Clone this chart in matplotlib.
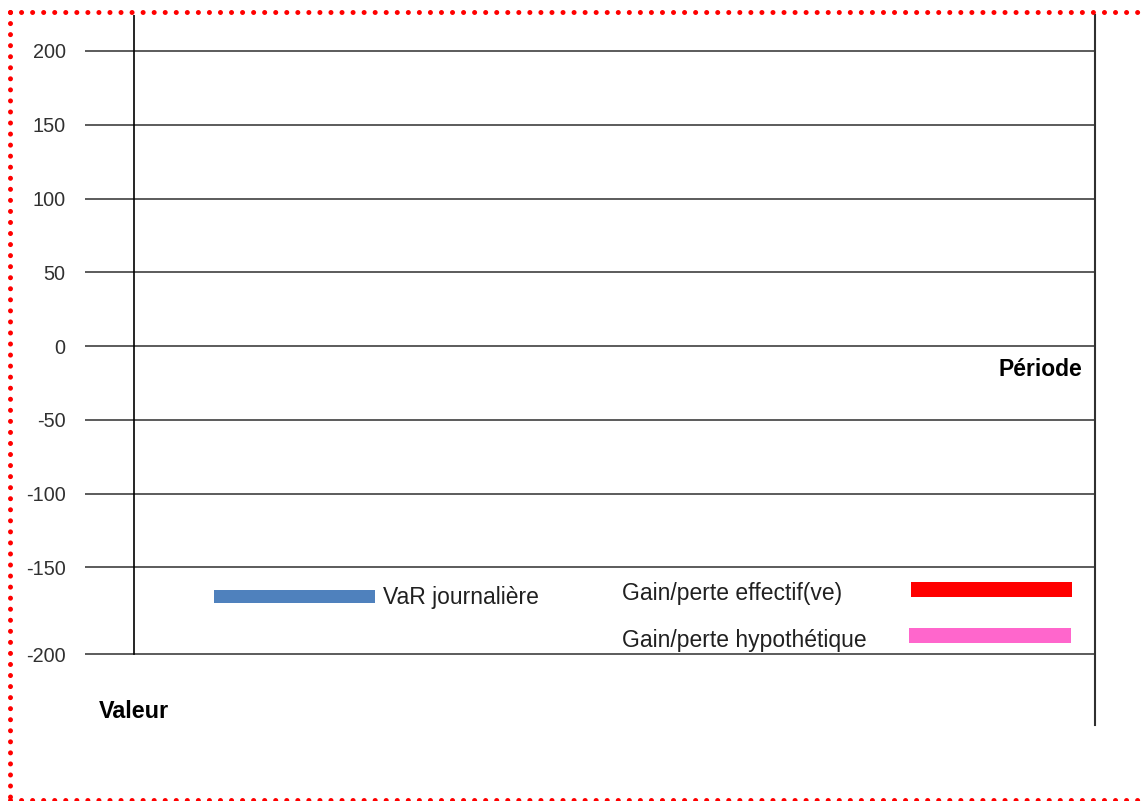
import matplotlib
matplotlib.use("Agg")
from matplotlib import pyplot as plt
from matplotlib.patches import Rectangle
from matplotlib.lines import Line2D

plt.rcParams['font.family'] = ['Liberation Sans', 'DejaVu Sans']

# y axis gridlines (the -200 line sits lower than the regular spacing in the original)
y_ticks = [200, 150, 100, 50, 0, -50, -100, -150, -208.8]
y_labels = ['200', '150', '100', '50', '0', '-50', '-100', '-150', '-200']

series_names = ['VaR journalière', 'Gain/perte effectif(ve)', 'Gain/perte hypothétique']
series_colors = ['#4F81BD', '#FF0000', '#FF66CC']
# no data points in the chart
series_values = [[], [], []]

x_title = 'Période'
y_title = 'Valeur'

fig = plt.figure(figsize=(11.48, 8.01), dpi=100)
ax = fig.add_axes([85 / 1148, 76 / 801, 1010 / 1148, 710 / 801])
ax.set_xlim(0, 1)
ax.set_ylim(-256.9, 224.4)

for s in ['top', 'bottom', 'left']:
    ax.spines[s].set_visible(False)
ax.spines['right'].set_color('#303030')
ax.spines['right'].set_linewidth(1.5)

ax.set_xticks([])
ax.set_yticks(y_ticks)
ax.set_yticklabels(y_labels, fontsize=14.3, color='#303030')
ax.tick_params(axis='y', length=0, pad=14)

for v in y_ticks:
    ax.axhline(v, color='#404040', lw=1.2)

# vertical axis line
ax.plot([0.0485, 0.0485], [y_ticks[-1], 224.4], color='black', lw=1.2)

for i, vals in enumerate(series_values):
    ax.plot(range(len(vals)), vals, color=series_colors[i])

# legend-like keys
fs = 16.5
ax.add_patch(Rectangle((0.1277, -169.8 - 4.4), 0.1594, 8.8, color=series_colors[0], lw=0))
ax.text(0.295, -170.8, series_names[0], fontsize=fs, color='#202020', va='center', ha='left')
ax.add_patch(Rectangle((0.8178, -165.1 - 5.1), 0.1594, 10.2, color=series_colors[1], lw=0))
ax.text(0.5317, -167.5, series_names[1], fontsize=fs, color='#202020', va='center', ha='left')
ax.add_patch(Rectangle((0.8158, -196.3 - 5.1), 0.1604, 10.2, color=series_colors[2], lw=0))
ax.text(0.5317, -199.3, series_names[2], fontsize=fs, color='#202020', va='center', ha='left')

ax.text(0.987, -15.6, x_title, fontsize=fs, fontweight='bold', va='center', ha='right')
ax.text(0.0139, -247.5, y_title, fontsize=16.8, fontweight='bold', va='center', ha='left')

# red dotted frame
W, H = 1148.0, 801.0
dot = dict(color='red', lw=3.6, linestyle=(0, (0.01, 2.2)), dash_capstyle='round', solid_capstyle='round')
fig.add_artist(Line2D([10 / W, 10 / W], [1 - 12 / H, 0], transform=fig.transFigure, **dot))
fig.add_artist(Line2D([10 / W, 1], [1 - 12 / H, 1 - 12 / H], transform=fig.transFigure, **dot))
fig.add_artist(Line2D([10 / W, 1], [1 - 800 / H, 1 - 800 / H], transform=fig.transFigure, **dot))

fig.savefig('out.png', dpi=100)
